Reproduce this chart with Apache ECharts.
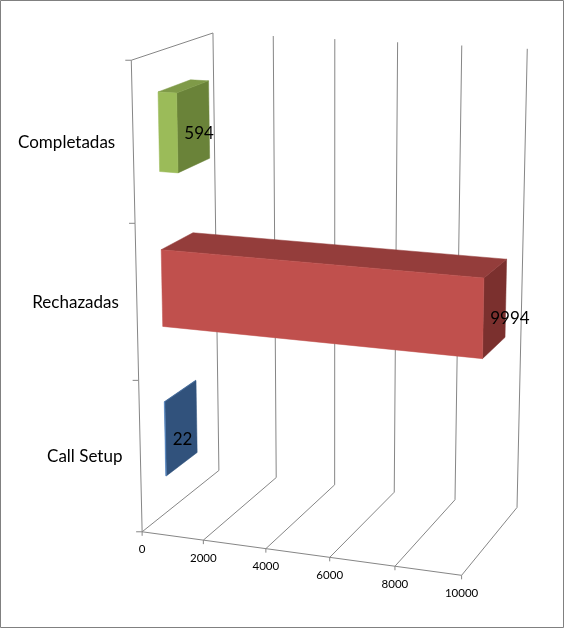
<!DOCTYPE html>
<html>
<head>
<meta charset="utf-8">
<script src="https://cdn.jsdelivr.net/npm/echarts@6/dist/echarts.min.js"></script>
<style>
html, body { margin: 0; padding: 0; background: #fff; }
#main { width: 565px; height: 629px; }
</style>
</head>
<body>
<div id="main"></div>
<script>
// data (bottom to top, as Excel draws a bar chart)
var categories = ['Call Setup', 'Rechazadas', 'Completadas'];
var values = [22, 9994, 594];
var valueTicks = [0, 2000, 4000, 6000, 8000, 10000];

// face colours per category: front, top, right side
var frontColors = ['#4f81bd', '#c0504d', '#9bbb59'];
var topColors = ['#3d6596', '#943d3b', '#7f9a48'];
var sideColors = ['#31527c', '#7b302e', '#6a8339'];

var lineColor = '#868686';
var font = 'Lato, "Open Sans", sans-serif';

// perspective of the 3D box: unit cube (u = value, v = height, w = depth) -> pixels,
// fitted from where the floor / back wall corners sit in the picture
var calib = [
	[0, 0, 0, 142.7, 532.3], [0.2, 0, 0, 203.3, 540], [0.4, 0, 0, 265.7, 548.3],
	[0.6, 0, 0, 330, 557.3], [0.8, 0, 0, 395, 566.7], [1, 0, 0, 461.7, 575],
	[0, 0, 1, 219, 471.7], [0.2, 0, 1, 276.7, 476.7], [0.4, 0, 1, 334.3, 484],
	[0.6, 0, 1, 394.3, 491.7], [0.8, 0, 1, 455, 500], [1, 0, 1, 516.7, 508.3],
	[0, 1, 1, 212.7, 33.3], [0.2, 1, 1, 273.3, 35.7], [0.4, 1, 1, 335, 39],
	[0.6, 1, 1, 397.7, 42.3], [0.8, 1, 1, 461.7, 45.3], [1, 1, 1, 527.3, 49],
	[0, 1, 0, 131.7, 60.5], [0, 2 / 3, 0, 135, 223.3], [0, 1 / 3, 0, 137.5, 380]
];

function fitCamera(pts) {
	var n = 11, N = [], r = [], i, j, k;
	for (i = 0; i < n; i++) {
		N.push([]); r.push(0);
		for (j = 0; j < n; j++) N[i].push(0);
	}
	function add(row, rhs) {
		for (var a = 0; a < n; a++) {
			r[a] += row[a] * rhs;
			for (var b = 0; b < n; b++) N[a][b] += row[a] * row[b];
		}
	}
	pts.forEach(function (p) {
		var X = p[0], Y = p[1], Z = p[2], x = p[3], y = p[4];
		add([X, Y, Z, 1, 0, 0, 0, 0, -x * X, -x * Y, -x * Z], x);
		add([0, 0, 0, 0, X, Y, Z, 1, -y * X, -y * Y, -y * Z], y);
	});
	for (k = 0; k < n; k++) {
		var piv = k;
		for (i = k + 1; i < n; i++) if (Math.abs(N[i][k]) > Math.abs(N[piv][k])) piv = i;
		var tmp = N[k]; N[k] = N[piv]; N[piv] = tmp;
		tmp = r[k]; r[k] = r[piv]; r[piv] = tmp;
		for (i = k + 1; i < n; i++) {
			var f = N[i][k] / N[k][k];
			for (j = k; j < n; j++) N[i][j] -= f * N[k][j];
			r[i] -= f * r[k];
		}
	}
	var m = [];
	for (k = n - 1; k >= 0; k--) {
		var s = r[k];
		for (j = k + 1; j < n; j++) s -= N[k][j] * m[j];
		m[k] = s / N[k][k];
	}
	return m;
}
var cam = fitCamera(calib);

function proj(u, v, w) {
	var h = cam[8] * u + cam[9] * v + cam[10] * w + 1;
	return [
		(cam[0] * u + cam[1] * v + cam[2] * w + cam[3]) / h,
		(cam[4] * u + cam[5] * v + cam[6] * w + cam[7]) / h
	];
}

function seg(p, q) {
	return {
		type: 'line',
		shape: { x1: p[0], y1: p[1], x2: q[0], y2: q[1] },
		style: { stroke: lineColor, lineWidth: 1 }
	};
}

// value on the flat hidden axis -> fraction of the box
function uOf(api, cs, val) {
	return (api.coord([val, 0])[0] - cs.x) / cs.width;
}
function vOf(api, cs, idx) {
	return 1 - (api.coord([0, idx])[1] - cs.y) / cs.height;
}

var BAR_HALF = 0.25; // of a category band (gap width 100%)
var W_FRONT = 0.3, W_BACK = 0.7; // depth of the bars

function renderValueTick(params, api) {
	var cs = params.coordSys;
	var t = api.value(0);
	var u = uOf(api, cs, t);
	var f0 = proj(u, 0, 0), f1 = proj(u, 0, 1), b1 = proj(u, 1, 1);
	var kids = [
		seg(f0, f1),
		seg(f1, b1),
		seg(f0, [f0[0], f0[1] + 4]),
		{
			type: 'text',
			style: {
				text: String(t), x: f0[0], y: f0[1] + 18,
				align: 'center', verticalAlign: 'middle',
				font: '11.5px ' + font, fill: '#000'
			}
		}
	];
	if (params.dataIndex === 0) {
		kids.push(seg(proj(0, 0, 0), proj(1, 0, 0)));
	}
	return { type: 'group', children: kids };
}

function renderCategory(params, api) {
	var cs = params.coordSys;
	var i = params.dataIndex;
	var vc = vOf(api, cs, i);
	var band = api.size([0, 1])[1] / cs.height;
	var lo = proj(0, vc - band / 2, 0), hi = proj(0, vc + band / 2, 0);
	var c = proj(0, vc, 0);
	var kids = [
		seg(lo, hi),
		seg(hi, [hi[0] - 6, hi[1]]),
		{
			type: 'text',
			style: {
				text: categories[i], x: c[0] - 18, y: c[1],
				align: 'right', verticalAlign: 'middle',
				font: '17px ' + font, fill: '#000'
			}
		}
	];
	if (i === 0) kids.push(seg(lo, [lo[0] - 6, lo[1]]));
	if (i === categories.length - 1) kids.push(seg(proj(0, 1, 0), proj(0, 1, 1)));
	return { type: 'group', children: kids };
}

function poly(pts, color) {
	return {
		type: 'polygon',
		shape: { points: pts },
		style: { fill: color, stroke: color, lineWidth: 0.5 }
	};
}

function renderBar(params, api) {
	var cs = params.coordSys;
	var i = params.dataIndex;
	var val = api.value(0);
	var u = uOf(api, cs, val);
	var vc = vOf(api, cs, i);
	var band = api.size([0, 1])[1] / cs.height;
	var v0 = vc - band * BAR_HALF, v1 = vc + band * BAR_HALF;
	var w0 = W_FRONT, w1 = W_BACK;
	var front = [proj(0, v0, w0), proj(u, v0, w0), proj(u, v1, w0), proj(0, v1, w0)];
	var top = [proj(0, v1, w0), proj(u, v1, w0), proj(u, v1, w1), proj(0, v1, w1)];
	var side = [proj(u, v0, w0), proj(u, v0, w1), proj(u, v1, w1), proj(u, v1, w0)];
	var lp = proj(u, vc, w0);
	return {
		type: 'group',
		children: [
			poly(side, sideColors[i]),
			poly(top, topColors[i]),
			poly(front, frontColors[i]),
			{
				type: 'text',
				style: {
					text: String(val), x: lp[0] + 7, y: lp[1],
					align: 'left', verticalAlign: 'middle',
					font: '17px ' + font, fill: '#000'
				}
			}
		]
	};
}

var chart = echarts.init(document.getElementById('main'));
chart.setOption({
	backgroundColor: '#fff',
	animation: false,
	grid: { left: 0, right: 0, top: 0, bottom: 0 },
	xAxis: { type: 'value', min: 0, max: 10000, interval: 2000, show: false },
	yAxis: { type: 'category', data: categories, show: false },
	graphic: [{
		type: 'rect',
		shape: { x: 0.5, y: 0.5, width: 563, height: 627 },
		style: { fill: 'none', stroke: '#808080', lineWidth: 1 },
		z: 100
	}],
	series: [
		{
			type: 'custom', name: 'valueAxis', clip: false, z: 1,
			renderItem: renderValueTick,
			data: valueTicks.map(function (t) { return [t, 0]; })
		},
		{
			type: 'custom', name: 'categoryAxis', clip: false, z: 1,
			renderItem: renderCategory,
			data: categories.map(function (c, i) { return [0, i]; })
		},
		{
			type: 'custom', name: 'bars', clip: false, z: 2,
			renderItem: renderBar,
			data: values.map(function (v, i) { return [v, i]; })
		}
	]
});
</script>
</body>
</html>
